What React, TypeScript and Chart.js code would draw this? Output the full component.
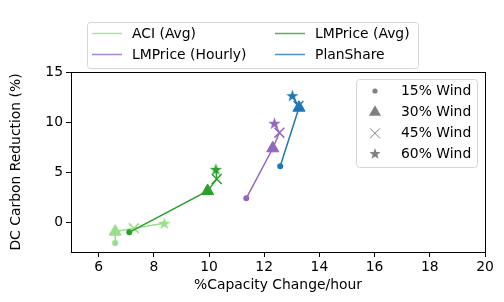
import React, { useEffect, useRef } from 'react';
import { Chart, registerables } from 'chart.js';
Chart.register(...registerables);

const seriesNames = ['ACI (Avg)', 'LMPrice (Hourly)', 'LMPrice (Avg)', 'PlanShare'];
const seriesColors = ['#98df8a', '#9467bd', '#2ca02c', '#1f77b4'];
const windLabels = ['15% Wind', '30% Wind', '45% Wind', '60% Wind'];

const aciX = [6.6, 6.6, 7.28, 8.38];
const aciY = [-2.1, -0.97, -0.63, -0.13];
const lmHourlyX = [11.35, 12.31, 12.55, 12.37];
const lmHourlyY = [2.37, 7.37, 8.93, 9.87];
const lmAvgX = [7.11, 9.95, 10.28, 10.25];
const lmAvgY = [-1.03, 3.1, 4.3, 5.27];
const planX = [12.58, 13.26, 13.24, 13.02];
const planY = [5.57, 11.43, 11.6, 12.63];

const xTicks = [6, 8, 10, 12, 14, 16, 18, 20];
const yTicks = [0, 5, 10, 15];

const FONT = '"DejaVu Sans", sans-serif';
const FS = 13.9;

function starPath(ctx: CanvasRenderingContext2D, cx: number, cy: number, r: number) {
  const inner = r * 0.4;
  ctx.beginPath();
  for (let i = 0; i < 10; i++) {
    const rad = i % 2 === 0 ? r : inner;
    const a = -Math.PI / 2 + (i * Math.PI) / 5;
    const x = cx + rad * Math.cos(a);
    const y = cy + rad * Math.sin(a);
    if (i === 0) ctx.moveTo(x, y);
    else ctx.lineTo(x, y);
  }
  ctx.closePath();
}

function makeStar(color: string, r: number) {
  const c = document.createElement('canvas');
  const s = Math.ceil(r * 2 + 2);
  c.width = s;
  c.height = s;
  const ctx = c.getContext('2d')!;
  ctx.fillStyle = color;
  starPath(ctx, s / 2, s / 2 + 0.5, r);
  ctx.fill();
  return c;
}

function drawMarker(ctx: CanvasRenderingContext2D, kind: number, x: number, y: number, color: string) {
  ctx.fillStyle = color;
  ctx.strokeStyle = color;
  if (kind === 0) {
    ctx.beginPath();
    ctx.arc(x, y, 2.6, 0, Math.PI * 2);
    ctx.fill();
  } else if (kind === 1) {
    const r = 7;
    ctx.beginPath();
    ctx.moveTo(x, y - r);
    ctx.lineTo(x + r * 0.866, y + r * 0.5);
    ctx.lineTo(x - r * 0.866, y + r * 0.5);
    ctx.closePath();
    ctx.fill();
  } else if (kind === 2) {
    const d = 5;
    ctx.lineWidth = 1;
    ctx.beginPath();
    ctx.moveTo(x - d, y - d);
    ctx.lineTo(x + d, y + d);
    ctx.moveTo(x + d, y - d);
    ctx.lineTo(x - d, y + d);
    ctx.stroke();
  } else {
    starPath(ctx, x, y, 6);
    ctx.fill();
  }
}

const overlay = {
  id: 'overlay',
  afterDraw(chart: any) {
    const ctx: CanvasRenderingContext2D = chart.ctx;
    const { left, right, top, bottom } = chart.chartArea;
    ctx.save();
    // frame
    ctx.strokeStyle = '#000';
    ctx.lineWidth = 1;
    ctx.strokeRect(Math.round(left) + 0.5, Math.round(top) + 0.5, Math.round(right - left), Math.round(bottom - top));

    // axis titles
    ctx.fillStyle = '#000';
    ctx.font = `${FS}px ${FONT}`;
    ctx.textAlign = 'center';
    ctx.textBaseline = 'middle';
    ctx.fillText('%Capacity Change/hour', (left + right) / 2, 285);
    ctx.save();
    ctx.translate(16, (top + bottom) / 2);
    ctx.rotate(-Math.PI / 2);
    ctx.fillText('DC Carbon Reduction (%)', 0, 0);
    ctx.restore();

    // top legend
    ctx.beginPath();
    (ctx as any).roundRect(87.5, 22.5, 331, 46, 3);
    ctx.fillStyle = 'rgba(255,255,255,0.8)';
    ctx.fill();
    ctx.strokeStyle = '#d6d6d6';
    ctx.stroke();
    ctx.font = `${FS}px ${FONT}`;
    ctx.textAlign = 'left';
    const cols = [92, 275];
    const rows = [33.5, 54.5];
    seriesNames.forEach((name, i) => {
      const col = Math.floor(i / 2);
      const row = i % 2;
      const lx = cols[col];
      const ly = rows[row];
      ctx.strokeStyle = seriesColors[i];
      ctx.globalAlpha = 0.8;
      ctx.lineWidth = 1.5;
      ctx.beginPath();
      ctx.moveTo(lx, ly);
      ctx.lineTo(lx + 30, ly);
      ctx.stroke();
      ctx.globalAlpha = 1;
      ctx.fillStyle = '#000';
      ctx.fillText(name, lx + 40, ly + 0.5);
    });

    // wind legend
    ctx.beginPath();
    (ctx as any).roundRect(356.5, 79.5, 121, 88, 3);
    ctx.fillStyle = 'rgba(255,255,255,0.8)';
    ctx.fill();
    ctx.strokeStyle = '#d6d6d6';
    ctx.lineWidth = 1;
    ctx.stroke();
    const wRows = [91, 112.3, 133.3, 154];
    windLabels.forEach((lab, i) => {
      drawMarker(ctx, i, 375, wRows[i], '#808080');
      ctx.fillStyle = '#000';
      ctx.fillText(lab, 401, wRows[i] + 0.5);
    });
    ctx.restore();
  },
};

export default function App() {
  const ref = useRef<HTMLCanvasElement>(null);
  useEffect(() => {
    const xs = [aciX, lmHourlyX, lmAvgX, planX];
    const ys = [aciY, lmHourlyY, lmAvgY, planY];
    const datasets = seriesNames.map((name, i) => {
      const star = makeStar(seriesColors[i], 6.5);
      return {
        label: name,
        data: xs[i].map((x, j) => ({ x, y: ys[i][j] })),
        borderColor: seriesColors[i],
        backgroundColor: seriesColors[i],
        borderWidth: 1.5,
        showLine: true,
        pointStyle: ['circle', 'triangle', 'crossRot', star] as any,
        pointRadius: [3, 7, 7, 7],
        pointBorderWidth: [0, 1, 1.5, 0],
        pointBackgroundColor: seriesColors[i],
        pointBorderColor: seriesColors[i],
        order: seriesNames.length - i,
      };
    });
    const chart = new Chart(ref.current!, {
      type: 'scatter',
      data: { datasets },
      options: {
        animation: false,
        responsive: false,
        layout: { padding: { left: 0, right: 19, top: 72, bottom: 0 } },
        plugins: { legend: { display: false }, tooltip: { enabled: false } },
        scales: {
          x: {
            type: 'linear',
            min: 5,
            max: 20,
            afterBuildTicks: (s: any) => {
              s.ticks = xTicks.map((v) => ({ value: v }));
            },
            afterFit: (s: any) => {
              s.height = 50;
            },
            border: { display: false },
            grid: { display: true, drawOnChartArea: false, drawTicks: true, tickLength: 5, color: '#000' },
            ticks: { color: '#000', font: { family: FONT, size: FS }, padding: 2, maxRotation: 0 },
          },
          y: {
            type: 'linear',
            min: -3,
            max: 15,
            afterBuildTicks: (s: any) => {
              s.ticks = yTicks.map((v) => ({ value: v }));
            },
            afterFit: (s: any) => {
              s.width = 71;
            },
            border: { display: false },
            grid: { display: true, drawOnChartArea: false, drawTicks: true, tickLength: 5, color: '#000' },
            ticks: { color: '#000', font: { family: FONT, size: FS }, padding: 3 },
          },
        },
      },
      plugins: [overlay],
    });
    return () => chart.destroy();
  }, []);
  return (
    <div style={{ position: 'fixed', left: 0, top: 0, width: 504, height: 302, background: '#fff' }}>
      <canvas ref={ref} width={504} height={302} style={{ width: 504, height: 302 }} />
    </div>
  );
}
